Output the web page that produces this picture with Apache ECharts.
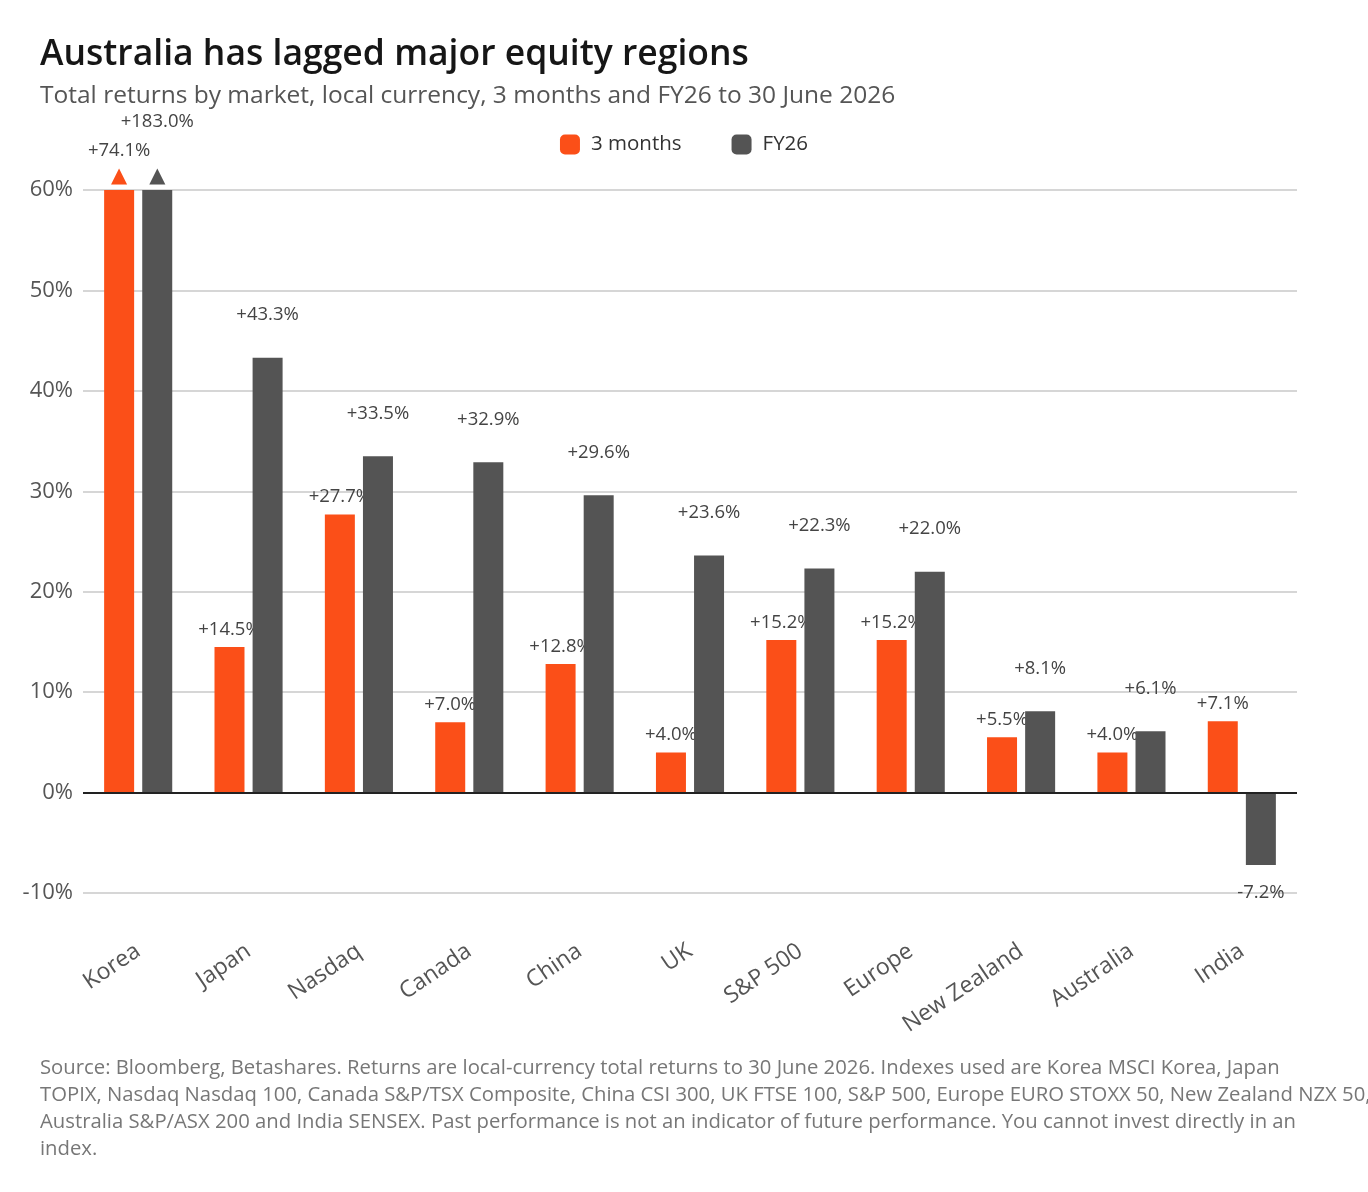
<!DOCTYPE html>
<html lang="en">
<head>
<meta charset="utf-8">
<title>Australia has lagged major equity regions</title>
<script src="https://cdn.jsdelivr.net/npm/echarts@6/dist/echarts.min.js"></script>
<style>
    html, body { margin: 0; padding: 0; background: #fff; }
    #main { width: 1368px; height: 1192px; }
</style>
</head>
<body>
<div id="main"></div>
<script>
    // data
    var markets = ['Korea', 'Japan', 'Nasdaq', 'Canada', 'China', 'UK', 'S&P 500', 'Europe', 'New Zealand', 'Australia', 'India'];
    var threeMonths = [74.1, 14.5, 27.7, 7.0, 12.8, 4.0, 15.2, 15.2, 5.5, 4.0, 7.1];
    var fy26 = [183.0, 43.3, 33.5, 32.9, 29.6, 23.6, 22.3, 22.0, 8.1, 6.1, -7.2];
    var yTicks = [-10, 0, 10, 20, 30, 40, 50, 60];

    var ORANGE = '#fb4f18';
    var GREY = '#545454';
    var FONT = '"Open Sans", Lato, sans-serif';
    var axisMax = yTicks[yTicks.length - 1];

    function fmt(v) {
        return (v > 0 ? '+' : '') + v.toFixed(1) + '%';
    }

    // bars above the axis max get capped and flagged with a triangle
    function buildData(arr, color, topGap) {
        return arr.map(function (v) {
            if (v <= axisMax) return { value: v, raw: v };
            return {
                value: axisMax,
                raw: v,
                label: {
                    distance: 2,
                    formatter: '{big|' + fmt(v) + '}\n{tri|▲}',
                    rich: {
                        big: { fontSize: 18.5, color: '#444', fontFamily: FONT, lineHeight: topGap },
                        tri: { fontSize: 21, color: color, fontFamily: 'DejaVu Sans', lineHeight: 22 }
                    }
                }
            };
        });
    }

    var myChart = echarts.init(document.getElementById('main'));
    var option = {
        backgroundColor: '#fff',
        animation: false,
        textStyle: { fontFamily: FONT },
        title: {
            left: 40,
            top: 37,
            padding: 0,
            text: 'Australia has lagged major equity regions',
            subtext: 'Total returns by market, local currency, 3 months and FY26 to 30 June 2026',
            itemGap: 11,
            textStyle: { fontSize: 35.5, fontWeight: 600, color: '#161616', fontFamily: FONT },
            subtextStyle: { fontSize: 24.5, color: '#555', fontFamily: FONT }
        },
        legend: {
            top: 129,
            left: 'center',
            itemWidth: 20,
            itemHeight: 20,
            itemGap: 50,
            icon: 'roundRect',
            data: ['3 months', 'FY26'],
            textStyle: { fontSize: 20.5, color: '#333', padding: [0, 0, 0, 6] }
        },
        grid: { left: 83, right: 71, top: 190, bottom: 299 },
        xAxis: {
            type: 'category',
            data: markets,
            axisLine: { show: false, onZero: false },
            axisTick: { show: false },
            axisLabel: {
                rotate: 34,
                margin: 56,
                fontSize: 23,
                color: '#555',
                interval: 0
            }
        },
        yAxis: {
            type: 'value',
            min: yTicks[0],
            max: axisMax,
            interval: 10,
            axisLine: { show: false },
            axisTick: { show: false },
            axisLabel: {
                margin: 10,
                fontSize: 22,
                color: '#555',
                formatter: '{value}%'
            },
            splitLine: { lineStyle: { color: '#d6d6d6', width: 2 } }
        },
        graphic: [{
            type: 'text',
            left: 40,
            top: 1055,
            style: {
                text: 'Source: Bloomberg, Betashares. Returns are local-currency total returns to 30 June 2026. Indexes used are Korea MSCI Korea, Japan\n' +
                      'TOPIX, Nasdaq Nasdaq 100, Canada S&P/TSX Composite, China CSI 300, UK FTSE 100, S&P 500, Europe EURO STOXX 50, New Zealand NZX 50,\n' +
                      'Australia S&P/ASX 200 and India SENSEX. Past performance is not an indicator of future performance. You cannot invest directly in an\n' +
                      'index.',
                fontSize: 20.3,
                lineHeight: 27,
                fill: '#777',
                fontFamily: FONT
            }
        }],
        series: [{
            name: '3 months',
            type: 'bar',
            z: 2,
            barWidth: 30,
            barGap: '27%',
            itemStyle: { color: ORANGE },
            label: {
                show: true,
                position: 'top',
                distance: 8,
                fontSize: 18.5,
                color: '#444',
                formatter: function (p) { return fmt(p.data.raw); }
            },
            data: buildData(threeMonths, ORANGE, 30)
        }, {
            name: 'FY26',
            type: 'bar',
            z: 3,
            barWidth: 30,
            itemStyle: { color: GREY },
            label: {
                show: true,
                position: 'top',
                distance: 33,
                fontSize: 18.5,
                color: '#444',
                formatter: function (p) { return fmt(p.data.raw); }
            },
            data: buildData(fy26, GREY, 88).map(function (d) {
                // negative bar: label sits below
                if (d.value < 0) {
                    d.label = { position: 'bottom', distance: 18 };
                }
                return d;
            }),
            markLine: {
                silent: true,
                symbol: 'none',
                label: { show: false },
                lineStyle: { color: '#222', width: 2, type: 'solid' },
                data: [{ yAxis: 0 }]
            }
        }]
    };
    myChart.setOption(option);
</script>
</body>
</html>
